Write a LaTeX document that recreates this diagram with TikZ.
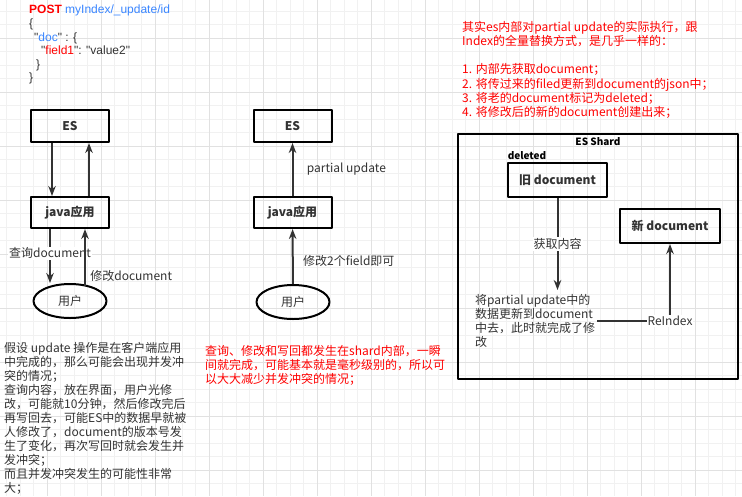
\documentclass[tikz,border=0pt]{standalone}
\usepackage{fontspec}
\setmainfont{Noto Sans CJK SC}
\newfontfamily\codefont{Liberation Sans}
\usetikzlibrary{arrows.meta,positioning,shapes.geometric}
\definecolor{codeblue}{HTML}{3A86FF}
\definecolor{txtred}{HTML}{FF0000}
\definecolor{lnc}{HTML}{333333}
\definecolor{gridmin}{HTML}{F1F1F1}
\definecolor{gridmaj}{HTML}{E1E1E1}
\begin{document}
\begin{tikzpicture}[x=1pt, y=-1pt, font=\fontsize{12}{14.2}\selectfont, text=lnc, line join=round,
		box/.style={draw=black, line width=2pt, minimum width=78pt, minimum height=32pt, font=\fontsize{12}{14}\selectfont\bfseries},
		user/.style={ellipse, draw=black, line width=2pt, minimum width=73pt, minimum height=34pt},
		arr/.style={draw=lnc, line width=2pt, -{Stealth[length=10pt, width=7.5pt]}},
		lbl/.style={fill=white, inner sep=1pt},
		note/.style={align=left, inner sep=0pt, anchor=north west}]
			\useasboundingbox (0,0) rectangle (742,496);
			\fill[white] (0,0) rectangle (742,496);
			% background grid
			\foreach \x in {6.8,20.3,...,742} \draw[gridmin, line width=0.9pt] (\x,0) -- (\x,496);
			\foreach \y in {11.3,24.8,...,496} \draw[gridmin, line width=0.9pt] (0,\y) -- (742,\y);
			\foreach \x in {47.3,101.3,...,742} \draw[gridmaj, line width=0.9pt] (\x,0) -- (\x,496);
			\foreach \y in {38.3,92.3,...,496} \draw[gridmaj, line width=0.9pt] (0,\y) -- (742,\y);
			% request
			\node[note, font=\codefont\fontsize{12}{13.6}\selectfont] (req) at (29,5) {\textcolor{txtred}{\bfseries POST} \textcolor{codeblue}{myIndex/\_update/id}\\
				\{\\
				\hspace*{5pt}"\textcolor{codeblue}{doc}" : \{\\
				\hspace*{12pt}"\textcolor{txtred}{field1}": "value2"\\
				\hspace*{7pt}\}\\
				\}};
			% full update
			\node[box] (es1) at (70,126) {ES};
			\node[box, minimum height=31pt] (java1) at (70,212.5) {java应用};
			\node[user] (user1) at (70,301) {用户};
			\draw[arr] ([xshift=-18pt]es1.south) -- ([xshift=-18pt]java1.north);
			\draw[arr] ([xshift=19pt]java1.north) -- ([xshift=19pt]es1.south);
			\draw[arr] ([xshift=-20pt]java1.south) -- node[lbl, pos=0.45] {查询document} ([xshift=-20pt]java1.south |- user1.north);
			\draw[arr] ([xshift=15pt,yshift=15pt]user1.center) -- node[pos=0.17, right=1pt] {修改document} ([xshift=15pt]java1.south);
			\node[note, font=\fontsize{12}{14}\selectfont] (txt1) at (4,342) {假设 update 操作是在客户端应用\\
				中完成的，那么可能会出现并发冲\\
				突的情况；\\
				查询内容，放在界面，用户光修\\
				改，可能就10分钟，然后修改完后\\
				再写回去，可能ES中的数据早就被\\
				人修改了，document的版本号发\\
				生了变化，再次写回时就会发生并\\
				发冲突；\\
				而且并发冲突发生的可能性非常\\
				大；};
			% partial update
			\node[box] (es2) at (292.5,126) {ES};
			\node[box, minimum height=31pt] (java2) at (292.5,212.5) {java应用};
			\node[user] (user2) at (293,302) {用户};
			\draw[arr] (java2) -- node[right=10pt] {partial update} (es2);
			\draw[arr] (user2) -- node[right=6pt, pos=0.42] {修改2个field即可} (java2);
			\node[note, text=txtred] (txt2) at (205,345) {查询、修改和写回都发生在shard内部，一瞬\\
				间就完成，可能基本就是毫秒级别的，所以可\\
				以大大减少并发冲突的情况；};
			% inside the shard
			\node[note, text=txtred] (txt3) at (462,21) {其实es内部对partial update的实际执行，跟\\
				Index的全量替换方式，是几乎一样的：\\[14.2pt]
				1. 内部先获取document；\\
				2. 将传过来的filed更新到document的json中；\\
				3. 将老的document标记为deleted；\\
				4. 将修改后的新的document创建出来；};
			\draw[black, line width=2pt] (458,134) rectangle (738,379);
			\node[font=\bfseries, text=black] (shard) at (598,142) {ES Shard};
			\node[font=\bfseries, text=black] (del) at (527,156) {deleted};
			\node[box, minimum width=99pt, minimum height=34pt] (old) at (557.5,180) {旧 document};
			\node[box, minimum width=100pt, minimum height=34pt] (new) at (670,226) {新 document};
			\node[note, inner sep=2pt] (upd) at (473,292) {将partial update中的\\
				数据更新到document\\
				中去，此时就完成了修\\
				改};
			\draw[arr] (old.south) -- node[lbl] {获取内容} ([yshift=2pt]old.south |- upd.north);
			\draw[arr] (upd.east) -| node[lbl, pos=0.5] {ReIndex} (new.south);
		\end{tikzpicture}
\end{document}
